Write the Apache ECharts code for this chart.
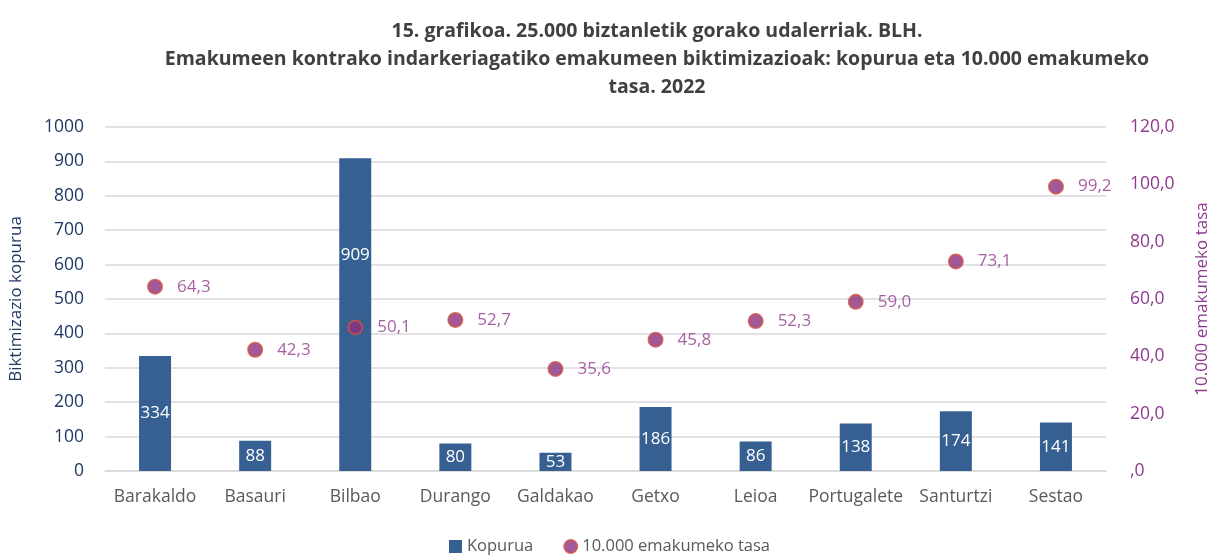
<!DOCTYPE html>
<html><head><meta charset="utf-8">
<script src="https://cdn.jsdelivr.net/npm/echarts@6/dist/echarts.min.js"></script>
<style>html,body{margin:0;padding:0;background:#fff}#c{width:1219px;height:558px}</style>
</head><body><div id="c"></div>
<script>
const categories = ['Barakaldo','Basauri','Bilbao','Durango','Galdakao','Getxo','Leioa','Portugalete','Santurtzi','Sestao'];
const kopurua = [334, 88, 909, 80, 53, 186, 86, 138, 174, 141];
const tasa = [64.3, 42.3, 50.1, 52.7, 35.6, 45.8, 52.3, 59.0, 73.1, 99.2];
const titleLines = ['15. grafikoa. 25.000 biztanletik gorako udalerriak. BLH.',
  'Emakumeen kontrako indarkeriagatiko emakumeen biktimizazioak: kopurua eta 10.000 emakumeko',
  'tasa. 2022'];

const FONT = 'Open Sans';
const fmt = v => { const s = v.toFixed(1).replace('.', ','); return v === 0 ? ',0' : s; };

const chart = echarts.init(document.getElementById('c'));
chart.setOption({
  animation: false,
  textStyle: { fontFamily: FONT },
  title: {
    text: titleLines.join('\n'),
    left: 652, textAlign: 'center', top: 12,
    textStyle: { fontFamily: FONT, fontWeight: 'bold', fontSize: 19.5, color: '#404040', lineHeight: 28 }
  },
  legend: {
    bottom: -2, left: 'center', itemGap: 30, itemWidth: 13, itemHeight: 13,
    textStyle: { fontFamily: FONT, fontSize: 16.5, color: '#595959' },
    data: [
      { name: 'Kopurua', icon: 'rect' },
      { name: '10.000 emakumeko tasa', icon: 'circle' }
    ]
  },
  grid: { left: 101, right: 107, top: 127, bottom: 87 },
  xAxis: {
    type: 'category', data: categories,
    axisLine: { show: true, lineStyle: { color: '#d9d9d9', width: 1.5 } },
    axisTick: { show: false },
    axisLabel: { interval: 0, fontFamily: FONT, fontSize: 17.5, color: '#595959', margin: 17 }
  },
  yAxis: [
    {
      type: 'value', min: 0, max: 1000, interval: 100,
      name: 'Biktimizazio kopurua', nameLocation: 'middle', nameGap: 80, nameRotate: 90,
      nameTextStyle: { fontFamily: FONT, fontSize: 17, color: '#1F3864' },
      axisLabel: { fontFamily: FONT, fontSize: 17.5, color: '#1F3864', margin: 21, formatter: v => String(v) },
      splitLine: { lineStyle: { color: '#d9d9d9', width: 1.5 } },
      axisLine: { show: false }, axisTick: { show: false }
    },
    {
      type: 'value', min: 0, max: 120, interval: 20,
      name: '10.000 emakumeko tasa', nameLocation: 'middle', nameGap: 88, nameRotate: 90,
      nameTextStyle: { fontFamily: FONT, fontSize: 17, color: '#8E3A8E' },
      axisLabel: { fontFamily: FONT, fontSize: 17.5, color: '#8E3A8E', margin: 24, formatter: fmt },
      splitLine: { show: false }, axisLine: { show: false }, axisTick: { show: false }
    }
  ],
  series: [
    {
      name: 'Kopurua', type: 'bar', yAxisIndex: 0, barWidth: 32,
      itemStyle: { color: '#376092' },
      label: { show: true, position: 'inside', color: '#fff', fontFamily: FONT, fontSize: 17 },
      data: kopurua.map((v, i) => categories[i] === 'Bilbao'
        ? { value: v, label: { position: ['50%', '31%'], align: 'center', verticalAlign: 'middle' } }
        : v)
    },
    {
      name: '10.000 emakumeko tasa', type: 'scatter', yAxisIndex: 1, symbol: 'circle', symbolSize: 14,
      itemStyle: { color: '#8B2F80', borderColor: '#C8504A', borderWidth: 2 },
      label: { show: true, position: 'right', distance: 14, color: '#8E3A8E', fontFamily: FONT, fontSize: 17,
        formatter: p => fmt(p.value) },
      data: tasa
    }
  ]
});
</script></body></html>
